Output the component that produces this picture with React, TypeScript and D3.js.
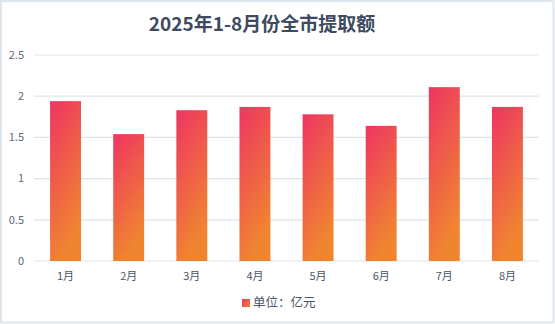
import React from "react";
import * as d3 from "d3";

const categories = ["1月", "2月", "3月", "4月", "5月", "6月", "7月", "8月"];
const values = [1.94, 1.54, 1.83, 1.87, 1.78, 1.64, 2.11, 1.87];
const yTicks = [0, 0.5, 1, 1.5, 2, 2.5];
const title = "2025年1-8月份全市提取额";
const legendLabel = "单位：亿元";

export default function App() {
  const W = 555, H = 324;
  const m = { left: 34, right: 16, top: 55, bottom: 63 };
  const x = d3.scaleBand<string>().domain(categories).range([m.left, W - m.right]).paddingInner(0.51).paddingOuter(0.255);
  const y = d3.scaleLinear().domain([0, 2.5]).range([H - m.bottom, m.top]);
  const font = "'Noto Sans CJK SC', 'Noto Sans', sans-serif";
  const fmt = (v: number) => String(v);
  return (
    <svg width={W} height={H} style={{ position: "absolute", left: 0, top: 0, display: "block" }}>
      <defs>
        <linearGradient id="barGrad" x1="0" y1="0" x2="0.35" y2="1">
          <stop offset="0%" stopColor="#ee3562" />
          <stop offset="100%" stopColor="#f08530" />
        </linearGradient>
        <linearGradient id="legGrad" x1="0" y1="0" x2="1" y2="1">
          <stop offset="0%" stopColor="#ee3562" />
          <stop offset="100%" stopColor="#f08530" />
        </linearGradient>
      </defs>
      <rect x={1} y={1} width={W - 2.5} height={H - 2.5} fill="#fff" stroke="#dfe5ed" strokeWidth={2} />
      <text x={262} y={31} textAnchor="middle" fontFamily={font} fontWeight="bold" fontSize={19} fill="#3d4a5f">{title}</text>
      {yTicks.map((t) => (
        <g key={t}>
          <line x1={m.left} x2={W - m.right} y1={y(t)} y2={y(t)} stroke="#e0e3ea" strokeWidth={1.2} />
          <text x={24} y={y(t)} dy="0.35em" textAnchor="end" fontFamily={font} fontSize={11} fill="#5d6a80">{fmt(t)}</text>
        </g>
      ))}
      {categories.map((c, i) => (
        <g key={c}>
          <rect x={x(c)} y={y(values[i])} width={x.bandwidth()} height={y(0) - y(values[i])} fill="url(#barGrad)" />
          <text x={(x(c) as number) + x.bandwidth() / 2} y={276} dy="0.35em" textAnchor="middle" fontFamily={font} fontSize={11} fill="#4a5568">{c}</text>
        </g>
      ))}
      <rect x={242} y={299} width={8} height={8} fill="url(#legGrad)" />
      <text x={253} y={303} dy="0.35em" fontFamily={font} fontSize={12.5} fill="#4a5568">{legendLabel}</text>
    </svg>
  );
}
